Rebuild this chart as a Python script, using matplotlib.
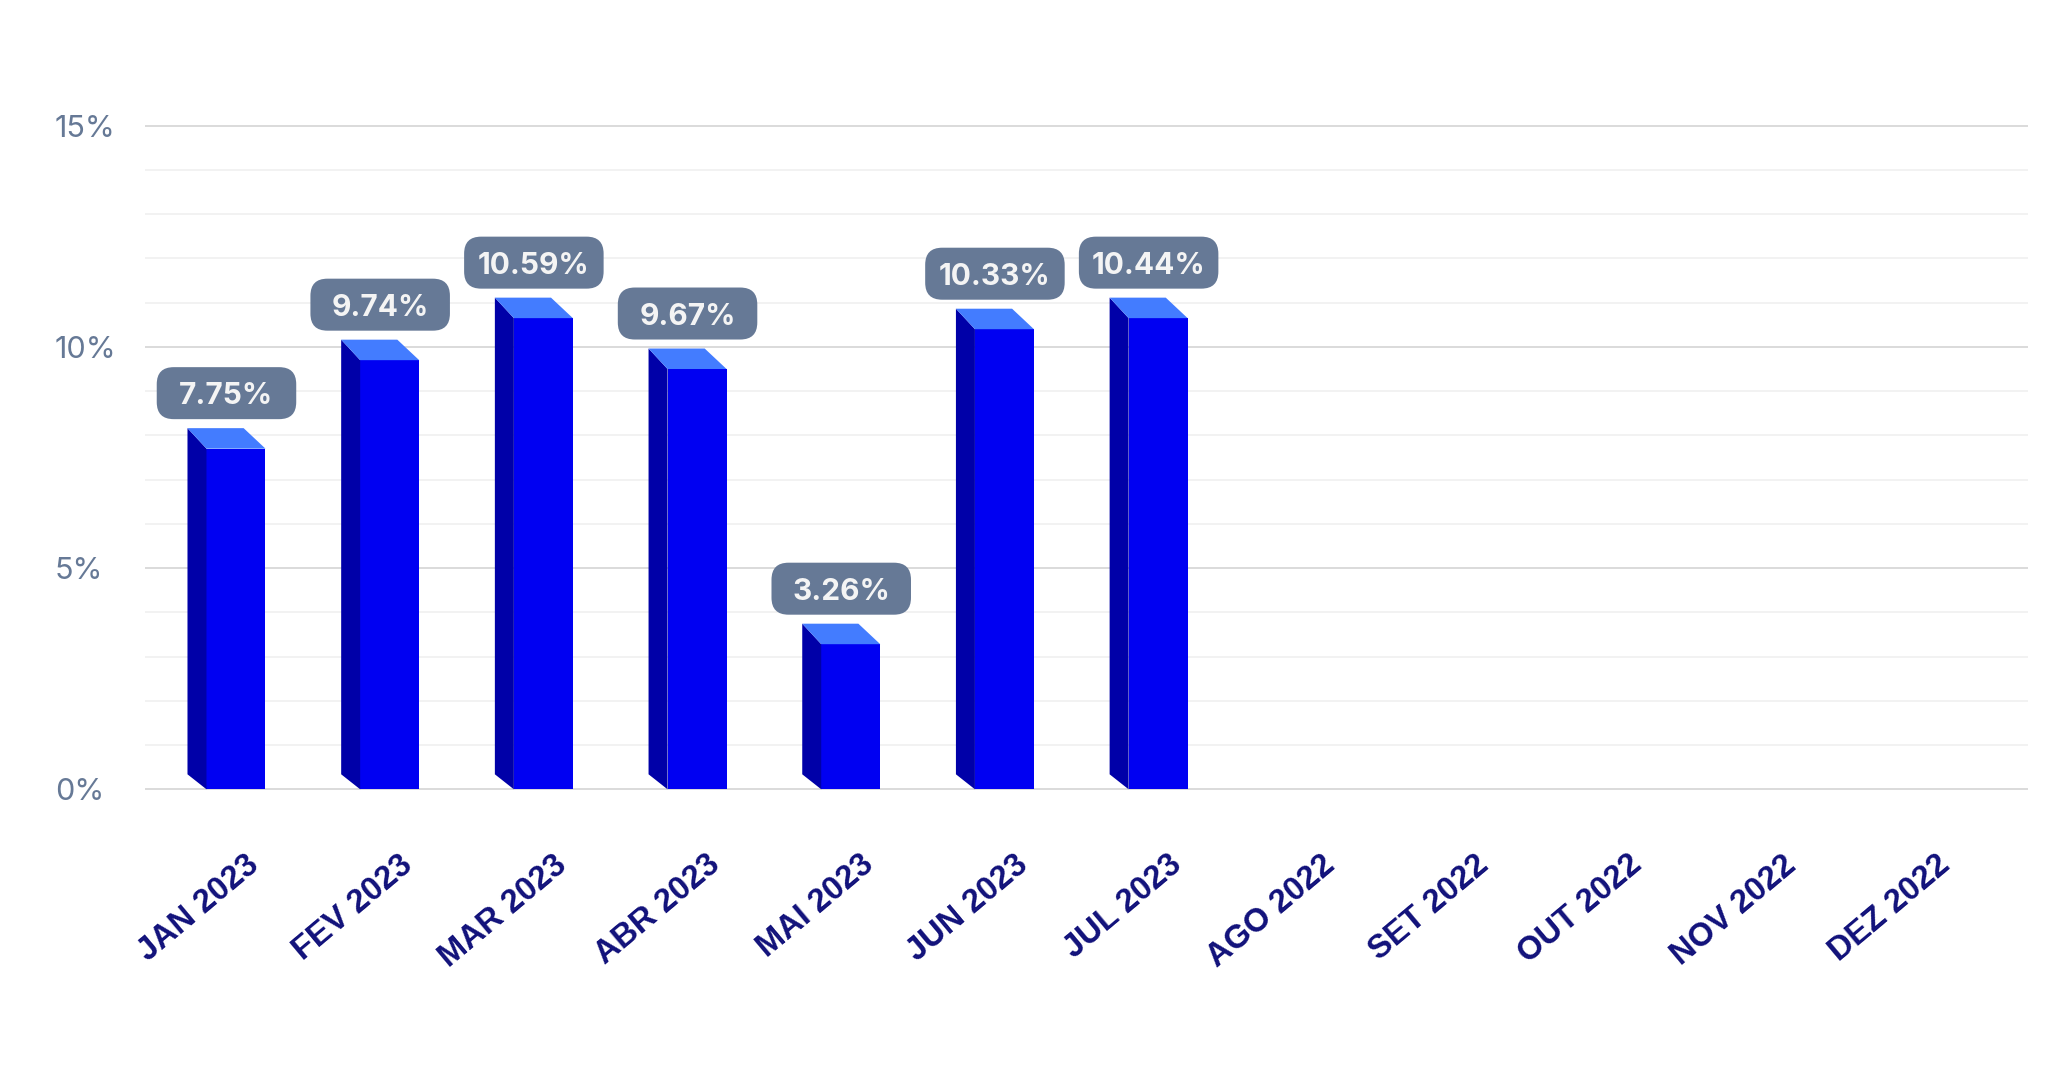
import matplotlib
matplotlib.use("Agg")
import matplotlib.pyplot as plt
import numpy as np
from matplotlib.patches import Polygon, FancyBboxPatch
from matplotlib.transforms import ScaledTranslation

# ---------------- data ----------------
categories = ["JAN 2023", "FEV 2023", "MAR 2023", "ABR 2023", "MAI 2023", "JUN 2023",
              "JUL 2023", "AGO 2022", "SET 2022", "OUT 2022", "NOV 2022", "DEZ 2022"]
# bar heights as drawn in the picture
values = [7.70, 9.70, 10.65, 9.50, 3.28, 10.40, 10.65]
# data labels as printed on the picture
value_labels = ["7.75%", "9.74%", "10.59%", "9.67%", "3.26%", "10.33%", "10.44%"]
y_ticks = [0, 5, 10, 15]
y_tick_labels = ["0%", "5%", "10%", "15%"]
minor_ticks = list(range(0, 16))

# ---------------- style ----------------
FRONT = "#0000f2"
SIDE = "#0000a8"
TOP = "#437cff"
BOX = "#667996"
YLAB = "#667996"
XLAB = "#11117a"

W, H, DPI = 2057, 1071, 100
fig = plt.figure(figsize=(W / DPI, H / DPI), dpi=DPI)

x_left_px, x_right_px = 145, 2028
ylo, yhi = -0.1, 15.1
zero_px, px_per_unit = 789.3, 44.24
bottom_px = zero_px + (0 - ylo) * px_per_unit
top_px = zero_px - yhi * px_per_unit
ax = fig.add_axes([x_left_px / W, 1 - bottom_px / H,
                   (x_right_px - x_left_px) / W, (bottom_px - top_px) / H])

xlo, xhi = -0.592, 11.66
ax.set_xlim(xlo, xhi)
ax.set_ylim(ylo, yhi)
px_per_x = (x_right_px - x_left_px) / (xhi - xlo)

bar_w = 59 / px_per_x
dx = -19 / px_per_x
dy_top = 20.5 / px_per_unit
dy_bot = 15 / px_per_unit

x = np.arange(len(values))
ax.bar(x, values, width=bar_w, color=FRONT, zorder=3, linewidth=0)
for xi, v in zip(x, values):
    l, r = xi - bar_w / 2, xi + bar_w / 2
    side = Polygon([(l, 0), (l + dx, dy_bot), (l + dx, v + dy_top), (l, v)],
                   closed=True, facecolor=SIDE, edgecolor="none", zorder=3)
    top = Polygon([(l, v), (r, v), (r + dx * 1.15, v + dy_top), (l + dx, v + dy_top)],
                  closed=True, facecolor=TOP, edgecolor="none", zorder=3)
    ax.add_patch(side)
    ax.add_patch(top)

# value label boxes (fixed pixel size)
bw_in, bh_in = 139.5 / DPI, 52 / DPI
off = 55.5 / DPI
for xi, v, lab in zip(x, values, value_labels):
    cx = xi + dx / 2
    tr = fig.dpi_scale_trans + ScaledTranslation(cx, v, ax.transData)
    box = FancyBboxPatch((-bw_in / 2, off - bh_in / 2), bw_in, bh_in,
                         boxstyle="round,pad=0,rounding_size=0.17",
                         facecolor=BOX, edgecolor="none", transform=tr, zorder=4,
                         clip_on=False)
    ax.add_patch(box)
    ax.text(0, off, lab, transform=tr, ha="center", va="center_baseline",
            fontsize=21.5, fontweight="bold", color="#f4f4f4", family="Inter",
            zorder=5)

# grid
ax.set_yticks(y_ticks)
ax.set_yticklabels(y_tick_labels)
ax.set_yticks(minor_ticks, minor=True)
ax.grid(which="minor", axis="y", color="#f0f0f0", linewidth=1.2, zorder=0)
ax.grid(which="major", axis="y", color="#dadada", linewidth=1.4, zorder=0)
ax.set_axisbelow(True)
for s in ax.spines.values():
    s.set_visible(False)

ax.tick_params(axis="y", which="both", length=0, pad=64.8, labelsize=22,
               labelcolor=YLAB)
for t in ax.get_yticklabels():
    t.set_horizontalalignment("left")
    t.set_family("Inter")

# x tick labels
ax.set_xticks(np.arange(len(categories)) + 0.06)
ax.set_xticklabels(categories, rotation=40, ha="right", va="top",
                   rotation_mode="anchor")
ax.tick_params(axis="x", length=0, pad=40, labelsize=23.5, labelcolor=XLAB)
for t in ax.get_xticklabels():
    t.set_family("Liberation Sans")
    t.set_fontweight("bold")

fig.savefig("out.png", dpi=DPI, facecolor="white")
